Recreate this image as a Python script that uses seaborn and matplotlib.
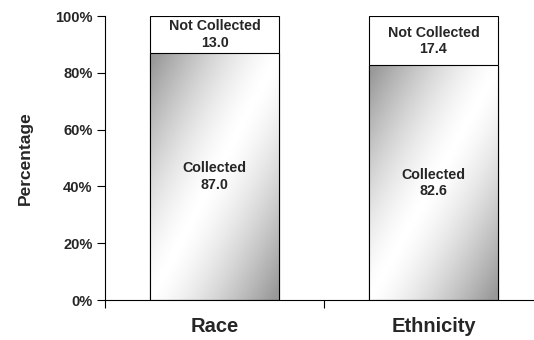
import numpy as np
import pandas as pd
import matplotlib
matplotlib.use("Agg")
import matplotlib.pyplot as plt
import seaborn as sns

categories = ["Race", "Ethnicity"]
collected = [87.0, 82.6]
not_collected = [13.0, 17.4]
y_ticks = [0, 20, 40, 60, 80, 100]

sns.set_style("white")
plt.rcParams["font.family"] = ["Liberation Sans", "DejaVu Sans"]
plt.rcParams["font.weight"] = "bold"

fig = plt.figure(figsize=(5.34, 3.40), dpi=100)
ax = fig.add_axes([105 / 534, 40 / 340, 438 / 534, 284 / 340])

df = pd.DataFrame({
    "category": categories,
    "collected": collected,
    "total": [c + n for c, n in zip(collected, not_collected)],
})

# stacked bars: full height (white) first, collected part on top of it
sns.barplot(data=df, x="category", y="total", color="white", edgecolor="black",
            linewidth=0.8, width=0.59, ax=ax, saturation=1)
n_total = len(ax.patches)
sns.barplot(data=df, x="category", y="collected", color="white", edgecolor="black",
            linewidth=0.8, width=0.59, ax=ax, saturation=1)
collected_patches = ax.patches[n_total:]

# diagonal grey gradient fill, clipped to each collected bar
h, w = 300, 200
u = np.linspace(0, 1, w)[None, :]
v = np.linspace(1, 0, h)[:, None]
t = np.clip(np.abs(u - v) * 1.05, 0, 1)
shade = 1 - 0.40 * t ** 1.4
for p in collected_patches:
    x0, y0 = p.get_x(), p.get_y()
    pw, ph = p.get_width(), p.get_height()
    im = ax.imshow(shade, cmap="gray", vmin=0, vmax=1, aspect="auto",
                   extent=(x0, x0 + pw, y0, y0 + ph), zorder=p.get_zorder() + 0.1,
                   interpolation="bilinear")
    im.set_clip_path(p)
    p.set_facecolor("none")
    p.set_zorder(p.get_zorder() + 0.2)

for i, (c, n) in enumerate(zip(collected, not_collected)):
    ax.text(i, c / 2, f"Collected\n{c:.1f}", ha="center", va="center",
            fontsize=10.3, fontweight="bold", linespacing=1.2, zorder=5)
    ax.text(i, c + n / 2, f"Not Collected\n{n:.1f}", ha="center", va="center",
            fontsize=10.3, fontweight="bold", linespacing=1.2, zorder=5)

ax.set_xlim(-0.5, 1.5)
ax.set_ylim(0, 100)
ax.set_yticks(y_ticks)
ax.set_yticklabels([f"{t}%" for t in y_ticks], fontsize=10.5, fontweight="bold")
ax.set_xticks([-0.5, 0.5])
ax.set_xticklabels(["", ""])
ax.tick_params(axis="both", direction="out", length=6, width=0.8, color="black",
               left=True, bottom=True, pad=3)
for i, cat in enumerate(categories):
    ax.text(i, -6.0, cat, ha="center", va="top", fontsize=14.5, fontweight="bold",
            transform=ax.transData, clip_on=False)
ax.set_xlabel("")
ax.set_ylabel("Percentage", fontsize=12.5, fontweight="bold", labelpad=16)

sns.despine(ax=ax, top=True, right=True)
for s in ("left", "bottom"):
    ax.spines[s].set_color("black")
    ax.spines[s].set_linewidth(0.8)

fig.savefig("out.png", dpi=100)
